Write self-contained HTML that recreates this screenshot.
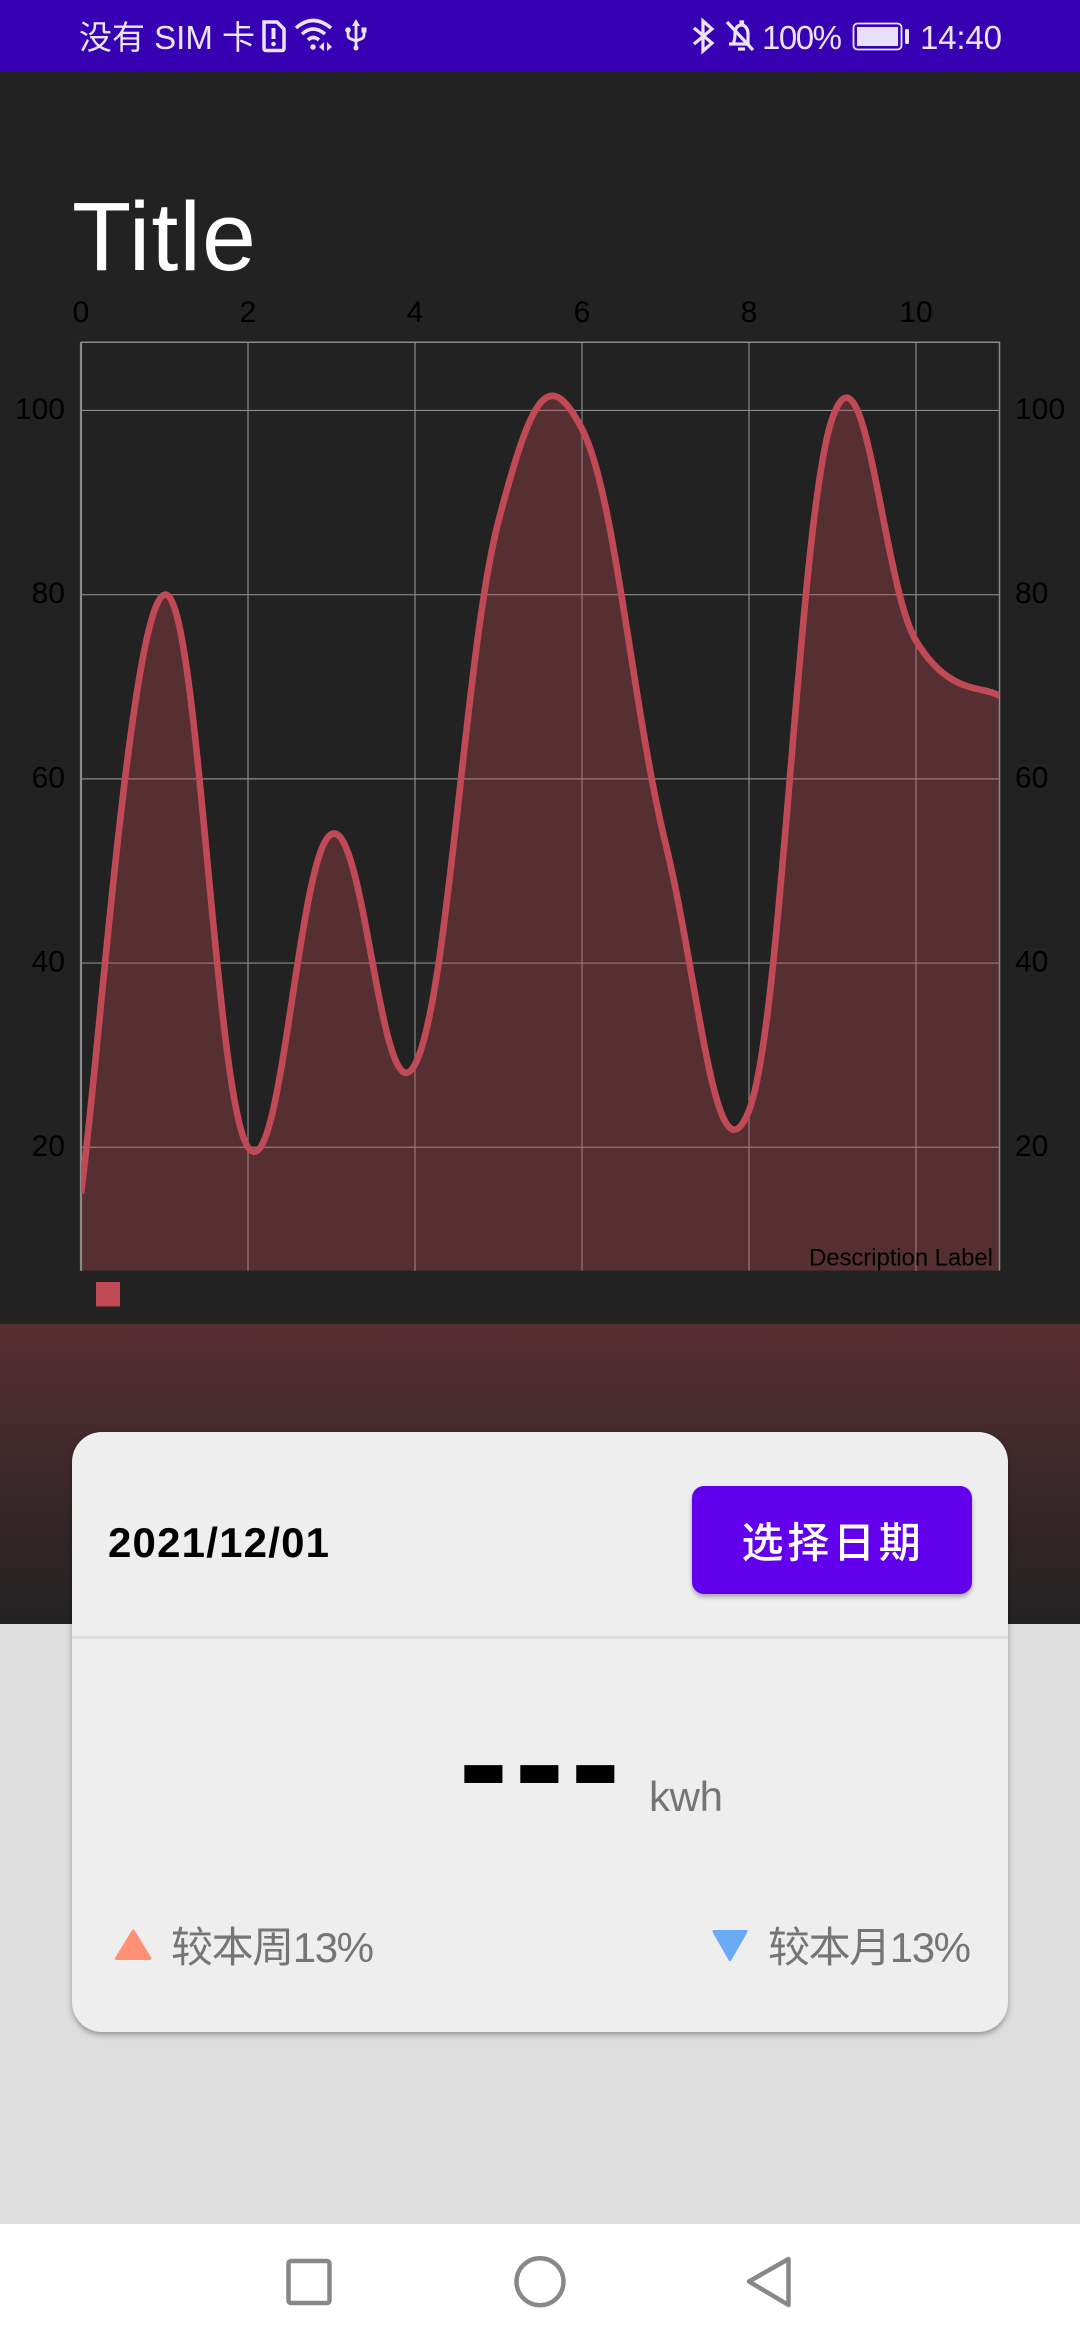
<!DOCTYPE html>
<html lang="zh">
<head>
<meta charset="utf-8">
<title>Energy chart</title>
<style>
  html, body { margin: 0; padding: 0; }
  body { width: 1080px; height: 2340px; position: relative; overflow: hidden; background: #dedede; font-family: "Liberation Sans", "Noto Sans CJK SC", sans-serif; }
  .abs { position: absolute; }
  svg { position: absolute; left: 0; top: 0; display: block; }
  #status-bar { left: 0; top: 0; width: 1080px; height: 72px; background: #3700b3; }
  #dark-panel { left: 0; top: 72px; width: 1080px; height: 1252px; background: #222222; }
  #gradient-panel { left: 0; top: 1324px; width: 1080px; height: 300px; background: linear-gradient(to bottom, #562e33 0%, #222222 100%); }
  #card { left: 72px; top: 1432px; width: 936px; height: 600px; background: #eeeeee; border-radius: 30px; box-shadow: 0 3px 6px rgba(0,0,0,.32); }
  #card-divider { left: 72px; top: 1636px; width: 936px; height: 3px; background: #dcdcdc; }
  #pick-date-button { left: 692px; top: 1486px; width: 280px; height: 108px; background: #6200ee; border-radius: 12px; box-shadow: 0 3px 5px rgba(0,0,0,.3); border: 0; padding: 0; }
  #nav-bar { left: 0; top: 2224px; width: 1080px; height: 116px; background: #ffffff; }
</style>
</head>
<body>
<div id="status-bar" class="abs"></div>
<div id="dark-panel" class="abs"></div>
<div id="gradient-panel" class="abs"></div>

<svg id="chart" width="1080" height="2340" viewBox="0 0 1080 2340" xmlns="http://www.w3.org/2000/svg"></svg>

<div id="card" class="abs"></div>
<div id="card-divider" class="abs"></div>
<button id="pick-date-button" class="abs"></button>
<div id="nav-bar" class="abs"></div>

<svg width="1080" height="2340" viewBox="0 0 1080 2340" style="pointer-events:none" xmlns="http://www.w3.org/2000/svg">
  <!-- status bar -->
  <g fill="#ece4fb" font-size="33">
    <text x="79" y="49" textLength="176">没有 SIM 卡</text>
    <text x="762" y="49" textLength="80">100%</text>
    <text x="920" y="49" textLength="82">14:40</text>
  </g>
  <g fill="none" stroke="#ece4fb" stroke-width="3.5">
    <path d="M264 22 H277 L284 29 V48 Q284 50.500 282 50.500 H266 Q264 50.500 264 48 Z"/>
    <path d="M273.500 28 V39" stroke-width="4"/>
    <circle cx="273.500" cy="44" r="1.200" stroke-width="2.200"/>
  </g>
  <g fill="none" stroke="#ece4fb" stroke-width="3.5">
    <path d="M296 28 Q313 13 331 28"/>
    <path d="M302 34 Q313 24 325 34"/>
    <path d="M308 40 Q313 35 319 40"/>
    <circle cx="313" cy="47" r="2" fill="#ece4fb" stroke-width="1.500"/>
    <path d="M324 42 L319 47 L324 51 Z M327 42 L332 47 L327 51 Z" fill="#ece4fb" stroke="none"/>
  </g>
  <g fill="none" stroke="#ece4fb" stroke-width="2.800">
    <path d="M356 24 V48"/>
    <path d="M348 31 V35 Q348 38 351 39 L356 41 L361 39 Q364 38 364 35 V31"/>
    <path d="M352 26 L356 19 L360 26 Z" fill="#ece4fb" stroke="none"/>
    <circle cx="356" cy="48" r="2.500" fill="#ece4fb" stroke="none"/>
    <circle cx="348" cy="30" r="2.800" fill="#ece4fb" stroke="none"/>
    <rect x="361.500" y="27.500" width="5" height="5" fill="#ece4fb" stroke="none"/>
  </g>
  <g fill="none" stroke="#ece4fb" stroke-width="3.200">
    <path d="M694 28 L712 43 L703 51 V21 L712 29 L694 44"/>
  </g>
  <g fill="none" stroke="#ece4fb" stroke-width="3.200">
    <path d="M733 44 Q735 40 735 34 Q735 26 741 25 V22 H742.500 V25 Q748 27 748 34 V44 H729"/>
    <path d="M738 49 H745"/>
    <path d="M727 22 L753 50"/>
  </g>
  <g>
    <rect x="853.500" y="23.500" width="48" height="26" rx="4" fill="none" stroke="#ece4fb" stroke-width="1.800"/>
    <rect x="857" y="27" width="41" height="19" fill="#e8e0f8"/>
    <rect x="905" y="29" width="4" height="15" rx="1.500" fill="#ece4fb"/>
  </g>

  <!-- card text -->
  <text x="108" y="1557" font-size="42" font-weight="700" fill="#000" textLength="221">2021/12/01</text>
  <text x="741.500" y="1557.500" font-size="42" font-weight="500" fill="#ffffff" letter-spacing="3.750" style="font-family:'Noto Sans CJK SC',sans-serif">选择日期</text>
  <text x="458.500" y="1813" font-size="150" font-weight="700" fill="#000" letter-spacing="6">---</text>
  <text x="649" y="1811" font-size="42" fill="#757575" textLength="74">kwh</text>

  <path d="M133.300 1931 L150 1958.500 H116.500 Z" fill="#ff8f75" stroke="#ff8f75" stroke-width="3" stroke-linejoin="round"/>
  <text x="171" y="1962" font-size="42" fill="#757575" textLength="203">较本周13%</text>
  <path d="M714 1931.500 H746 L730 1959.500 Z" fill="#6aa9f4" stroke="#6aa9f4" stroke-width="3" stroke-linejoin="round"/>
  <text x="768" y="1962" font-size="42" fill="#757575" textLength="203">较本月13%</text>

  <!-- nav -->
  <rect x="288.500" y="2261" width="41" height="42" rx="2.500" fill="none" stroke="#888888" stroke-width="4.500" style="pointer-events:auto"/>
  <circle cx="540" cy="2281.700" r="23.500" fill="none" stroke="#888888" stroke-width="4.500" style="pointer-events:auto"/>
  <path d="M788.500 2259 V2305 L749 2281.500 Z" fill="none" stroke="#888888" stroke-width="4.500" stroke-linejoin="round" style="pointer-events:auto"/>
</svg>

<script>
// Chart data
const xValues = [0, 1, 2, 3, 4, 5, 6, 7, 8, 9, 10, 11];
const yValues = [15, 80, 20, 54, 29, 88, 98, 53, 24, 99.2, 75, 69];
const xTickLabels = [0, 2, 4, 6, 8, 10];
const yTickLabels = [20, 40, 60, 80, 100];
const xDomain = [0, 11];
const yDomain = [6.6, 107.4];
const chartTitle = 'Title';
const descriptionLabel = 'Description Label';

const plot = { left: 81, right: 999.5, top: 342.3, bottom: 1270.7 };
const lineColor = '#bf4a55';
const gridColor = '#8a8a8a';
const intensity = 0.2;
const NS = 'http://www.w3.org/2000/svg';
const svg = document.getElementById('chart');

function xScale(v) { return plot.left + (v - xDomain[0]) / (xDomain[1] - xDomain[0]) * (plot.right - plot.left); }
function yScale(v) { return plot.bottom - (v - yDomain[0]) / (yDomain[1] - yDomain[0]) * (plot.bottom - plot.top); }

function make(tag, attrs, parent) {
  const el = document.createElementNS(NS, tag);
  for (const k in attrs) el.setAttribute(k, attrs[k]);
  (parent || svg).appendChild(el);
  return el;
}

// clip
const defs = make('defs', {});
const clip = make('clipPath', { id: 'plot-clip' }, defs);
make('rect', { x: plot.left, y: plot.top, width: plot.right - plot.left, height: plot.bottom - plot.top }, clip);

// title
const titleEl = make('text', { x: 72, y: 270, 'font-size': 97, fill: '#ffffff', textLength: 184 });


titleEl.textContent = chartTitle;

// grid
xTickLabels.forEach(function (t) {
  const line = make('line', { x1: xScale(t), x2: xScale(t), y1: plot.top, y2: plot.bottom, stroke: gridColor, 'stroke-width': 1.2 });
  
  
  const label = make('text', { x: xScale(t), y: 322, 'text-anchor': 'middle', 'font-size': 30, fill: '#000' });
  
  
  label.textContent = t;
});
yTickLabels.forEach(function (t) {
  const line = make('line', { x1: plot.left, x2: plot.right, y1: yScale(t), y2: yScale(t), stroke: gridColor, 'stroke-width': 1.2 });
  
  
  const left = make('text', { x: 65, y: yScale(t) + 8.5, 'text-anchor': 'end', 'font-size': 30, fill: '#000' });
  
  
  left.textContent = t;
  const right = make('text', { x: 1015, y: yScale(t) + 8.5, 'font-size': 30, fill: '#000' });
  
  
  right.textContent = t;
});

// cubic bezier path in the style of the source chart library
function curvePath() {
  const pts = xValues.map(function (x, i) { return [xScale(x), yScale(yValues[i])]; });
  let d = 'M' + pts[0][0] + ' ' + pts[0][1];
  for (let j = 1; j < pts.length; j++) {
    const pp = pts[Math.max(j - 2, 0)], p = pts[j - 1], c = pts[j], n = pts[Math.min(j + 1, pts.length - 1)];
    d += ' C' + (p[0] + (c[0] - pp[0]) * intensity) + ' ' + (p[1] + (c[1] - pp[1]) * intensity) + ' ' +
      (c[0] - (n[0] - p[0]) * intensity) + ' ' + (c[1] - (n[1] - p[1]) * intensity) + ' ' + c[0] + ' ' + c[1];
  }
  return d;
}
const curve = curvePath();
const areaEl = make('path', {
  d: curve + ' L' + xScale(xValues[xValues.length - 1]) + ' ' + plot.bottom + ' L' + xScale(xValues[0]) + ' ' + plot.bottom + ' Z',
  fill: lineColor, 'fill-opacity': 0.333, 'clip-path': 'url(#plot-clip)'
});



// axis border
const leftAxisEl = make('line', { x1: plot.left, x2: plot.left, y1: plot.top, y2: plot.bottom, stroke: gridColor, 'stroke-width': 2.2 });


const borderEl = make('path', {
  d: 'M' + plot.left + ' ' + plot.top + ' H' + plot.right + ' V' + plot.bottom,
  fill: 'none', stroke: gridColor, 'stroke-width': 1.5
});



const lineEl = make('path', { d: curve, fill: 'none', stroke: lineColor, 'stroke-width': 6.6, 'clip-path': 'url(#plot-clip)' });



// description
const descEl = make('text', { x: 993, y: 1265.5, 'text-anchor': 'end', 'font-size': 24, fill: '#000', textLength: 184 });


descEl.textContent = descriptionLabel;

// legend
const legendEl = make('rect', { x: 96, y: 1282, width: 24, height: 24.5, fill: lineColor });


</script>
</body>
</html>
